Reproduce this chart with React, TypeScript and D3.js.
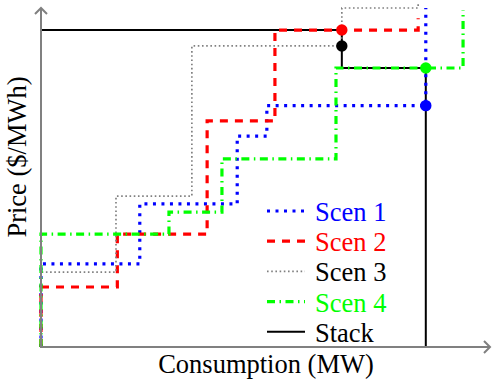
import React, { useRef, useEffect } from 'react';
import * as d3 from 'd3';

// step curves: cumulative MW breakpoints and price levels
const scen1Mw = [0, 22, 43.7, 50.3, 85.7];
const scen1Price = [24.5, 42.2, 62.2, 71.2, 100];
const scen2Mw = [0, 17, 37, 52.1, 84];
const scen2Price = [17.7, 33.3, 66.7, 93.5, 97];
const scen3Mw = [0, 16.7, 33.6, 67, 84];
const scen3Price = [22.1, 44.5, 88.8, 100, 101.5];
const scen4Mw = [0, 28.5, 40.3, 65.7, 94];
const scen4Price = [33.3, 39.8, 55.5, 82.3, 99.4];
const stackMw = [0, 67, 85.7];
const stackPrice = [93.5, 82.3, 0];

const markerMw = [67, 67, 85.7, 85.7];
const markerPrice = [93.5, 88.8, 82.3, 71.2];
const markerColors = ['#ff0000', '#000000', '#00ff00', '#0000ff'];

const legendLabels = ['Scen 1', 'Scen 2', 'Scen 3', 'Scen 4', 'Stack'];

const FONT = '"Liberation Serif", "Times New Roman", serif';

const App = () => {
    const svgRef = useRef(null);

    useEffect(() => {
        const svg = d3.select(svgRef.current);
        svg.selectAll('*').remove();

        const x = d3.scaleLinear().domain([0, 100]).range([41, 490]);
        const y = d3.scaleLinear().domain([0, 100]).range([347, 8]);

        const styles = [
            { color: '#0000ff', width: 3.2, dash: '3,5.5' },
            { color: '#ff0000', width: 3.2, dash: '8,7' },
            { color: '#808080', width: 1.7, dash: '1.6,2.6' },
            { color: '#00ff00', width: 3.2, dash: '8,4.5,1.5,4.5' },
            { color: '#000000', width: 2, dash: null },
        ];

        const toPoints = (mw, price, fromZero) => {
            const pts = fromZero ? [[0, 0]] : [];
            mw.forEach((m, i) => pts.push([m, price[i]]));
            return pts;
        };

        const line = d3.line()
            .x(d => x(d[0]))
            .y(d => y(d[1]))
            .curve(d3.curveStepAfter);

        const drawCurve = (pts, st) => {
            svg.append('path')
                .datum(pts)
                .attr('fill', 'none')
                .attr('stroke', st.color)
                .attr('stroke-width', st.width)
                .attr('stroke-dasharray', st.dash)
                .attr('d', line);
        };

        // stack first, scenarios drawn over it
        drawCurve(toPoints(stackMw, stackPrice, false), styles[4]);
        drawCurve(toPoints(scen1Mw, scen1Price, true), styles[0]);
        drawCurve(toPoints(scen2Mw, scen2Price, true), styles[1]);
        drawCurve(toPoints(scen3Mw, scen3Price, true), styles[2]);
        drawCurve(toPoints(scen4Mw, scen4Price, true), styles[3]);

        // axes with open arrow heads
        const axisColor = '#808080';
        const x0 = x(0), y0 = y(0);
        const xEnd = 490, yEnd = 8;
        svg.append('path')
            .attr('d', `M${x0},${y0}H${xEnd}M${xEnd - 6},${y0 - 6}L${xEnd},${y0}L${xEnd - 6},${y0 + 6}`)
            .attr('fill', 'none')
            .attr('stroke', axisColor)
            .attr('stroke-width', 2);
        svg.append('path')
            .attr('d', `M${x0},${y0 + 1}V${yEnd}M${x0 - 6},${yEnd + 6}L${x0},${yEnd}L${x0 + 6},${yEnd + 6}`)
            .attr('fill', 'none')
            .attr('stroke', axisColor)
            .attr('stroke-width', 2);

        // clearing points
        svg.selectAll('circle.mk')
            .data(markerMw)
            .enter()
            .append('circle')
            .attr('cx', d => x(d))
            .attr('cy', (d, i) => y(markerPrice[i]))
            .attr('r', 5.7)
            .attr('fill', (d, i) => markerColors[i]);

        // axis labels
        svg.append('text')
            .attr('x', 266)
            .attr('y', 373)
            .attr('text-anchor', 'middle')
            .attr('font-family', FONT)
            .attr('font-size', 26.5)
            .text('Consumption (MW)');

        svg.append('text')
            .attr('transform', 'translate(26,157) rotate(-90)')
            .attr('text-anchor', 'middle')
            .attr('font-family', FONT)
            .attr('font-size', 26.5)
            .text('Price ($/MWh)');

        // legend
        const legend = svg.append('g').attr('transform', 'translate(267,211)');
        const textColors = ['#0000ff', '#ff0000', '#000000', '#00ff00', '#000000'];
        legendLabels.forEach((lab, i) => {
            const st = styles[i];
            legend.append('line')
                .attr('x1', 0)
                .attr('x2', 38)
                .attr('y1', i * 30.2)
                .attr('y2', i * 30.2)
                .attr('stroke', st.color)
                .attr('stroke-width', st.width)
                .attr('stroke-dasharray', st.dash);
            legend.append('text')
                .attr('x', 48)
                .attr('y', i * 30.2 + 10)
                .attr('font-family', FONT)
                .attr('font-size', 26.5)
                .attr('fill', textColors[i])
                .text(lab);
        });
    }, []);

    return (
        <svg
            ref={svgRef}
            width={492}
            height={382}
            style={{ position: 'absolute', left: 0, top: 0, background: '#fff' }}
        ></svg>
    );
};

export default App;
